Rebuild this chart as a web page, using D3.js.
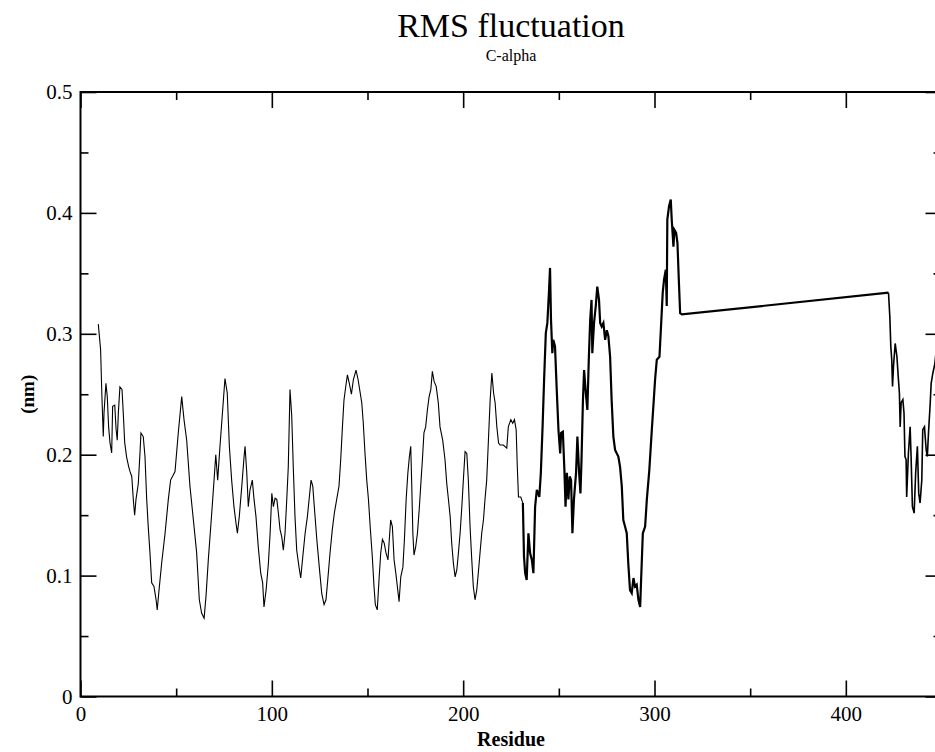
<!DOCTYPE html>
<html>
<head>
<meta charset="utf-8">
<script src="https://cdn.jsdelivr.net/npm/d3@7"></script>
<style>
  html, body { margin: 0; padding: 0; background: #fff; }
  svg { display: block; }
  text { font-family: "Liberation Serif", "Times New Roman", serif; fill: #000; }
</style>
</head>
<body>
<svg id="chart" width="935" height="752"></svg>
<script>
// ---- data ----
const titleText = "RMS fluctuation";
const subtitleText = "C-alpha";
const xLabel = "Residue";
const yLabel = "(nm)";

const xTickValues = [0, 100, 200, 300, 400];
const yTickValues = [0, 0.1, 0.2, 0.3, 0.4, 0.5];
const yTickLabels = ["0", "0.1", "0.2", "0.3", "0.4", "0.5"];

const residues = [
  9.3,10.5,11.2,11.9,12.3,13.3,14,14.7,15.4,16.3,16.8,17.9,18.6,19.2,19.8,20.6,21.7,22.4,23.1,24.1,
  25.2,25.9,26.8,27.6,28.3,29,30.2,31.1,31.6,32.8,33.7,34.6,35.4,36.3,37.2,38.4,39.5,40.1,40.9,42.4,
  44.2,45.9,47.1,49.4,51.1,52.9,54.1,55.5,57.2,59,60.7,62.1,63.3,64.6,65.6,66.8,68.6,69.8,70.7,71.7,
  72.9,74.3,75.5,76.7,77.8,79,80.2,81.3,82,83,84.3,85.5,86,86.9,87.7,88.6,89.8,90.7,91.7,92.9,
  94.2,95.2,95.9,97,98.2,99.1,100,100.8,101.7,102.6,103.4,104.3,105.2,106,106.9,107.8,108.6,109.5,110.4,111.2,
  112.1,113,114.2,115.1,116.2,117.4,118.6,119.6,120.5,121.4,122.2,123.5,124.8,126.1,127.3,128.3,129.2,130.4,131.6,132.7,
  133.9,135.1,136,136.9,137.7,138.6,139.5,140.5,141.6,142.6,144,145.1,146.1,147,147.8,148.7,149.6,150.5,151.4,152.5,
  153.4,154.1,155.1,156,156.9,157.8,158.7,159.7,160.7,161.4,162.1,163,163.9,164.8,165.6,166.5,167.4,168.5,169.3,170.2,
  171.1,171.9,172.6,173.1,173.7,174.3,175.2,176.1,177,177.8,178.7,179.5,180.4,181.3,182.2,183.1,183.9,184.8,185.9,187,
  187.9,189.3,190.5,191.4,192.3,193.2,194,194.9,195.8,196.7,197.5,198.4,199.3,200.1,201,201.9,202.7,203.6,204.5,205.3,
  206.2,207.1,207.9,208.8,209.7,210.6,211.4,212.3,213.2,214.1,215,215.9,216.7,217.6,218.5,219.3,221,222.8,223.6,224.9,
  225.9,226.8,227.7,228.3,228.9,230.1,231.2,
  231.8,232.4,233.2,234.1,235,235.9,236.7,237.6,238.5,239.8,240.6,241.5,242.3,243.2,244,244.9,245.4,245.9,246.6,247.1,
  248,248.9,249.8,250.7,251.2,252.1,252.9,253.5,254.2,255,255.7,256.4,257.1,257.9,259,259.7,260.6,261.3,261.8,262.6,
  263.2,264.1,264.9,265.7,266.4,267.1,267.5,268.4,269.3,270.1,271,271.6,272.4,273.3,274.2,275.1,275.9,276.8,277.6,278.5,
  279.4,280.3,281.1,282,282.9,283.7,284.6,285.5,286.3,287.2,288.1,289,289.8,290.7,291.6,292.5,293,293.9,295.1,296,
  297.3,298.6,299.4,300.3,301.2,302.6,303.5,304.3,305,305.9,306.4,306.7,307.6,308.5,309,309.9,310.4,311.3,312,312.7,
  313.4,314.3,422.3,
  423,423.5,424,424.4,424.9,425.8,426.7,427.5,428,428.4,428.9,429.8,430.4,430.9,431.5,431.8,432.7,433.6,434.1,434.8,
  435.7,436.5,437.4,438.1,438.8,439.7,440.2,441.1,442,442.6,443.2,444.1,444.6,445.5,446.5,447.5,448
];

const rmsf = [
  .308,.287,.248,.215,.235,.259,.248,.223,.210,.2015,.240,.241,.221,.212,.235,.256,.254,.233,.210,.198,
  .190,.186,.182,.163,.150,.163,.176,.2015,.218,.215,.1985,.163,.1405,.119,.094,.091,.080,.0716,.0856,.110,
  .135,.163,.179,.186,.218,.248,.229,.212,.174,.146,.119,.080,.069,.0647,.083,.113,.152,.179,.200,.179,
  .207,.237,.263,.251,.207,.179,.157,.143,.135,.149,.174,.1985,.207,.185,.157,.171,.179,.163,.149,.124,
  .102,.094,.074,.088,.110,.135,.168,.157,.164,.163,.152,.138,.132,.121,.135,.163,.190,.254,.232,.190,
  .149,.121,.107,.098,.116,.135,.149,.165,.179,.174,.157,.130,.107,.085,.076,.080,.096,.1185,.138,.152,
  .163,.174,.196,.223,.245,.256,.266,.259,.250,.262,.270,.262,.252,.243,.226,.201,.179,.163,.1406,.116,
  .091,.076,.0716,.096,.1185,.130,.127,.1185,.113,.130,.146,.1406,.113,.102,.091,.0785,.099,.107,.130,.163,
  .185,.1985,.207,.1765,.135,.117,.124,.135,.154,.174,.196,.218,.223,.237,.248,.254,.269,.2606,.2565,.243,
  .223,.212,.196,.1765,.163,.149,.127,.110,.099,.105,.1185,.135,.157,.179,.2026,.201,.179,.1406,.113,.091,
  .080,.088,.102,.1185,.135,.146,.163,.179,.212,.245,.2675,.251,.243,.223,.2096,.208,.208,.2055,.223,.229,
  .226,.229,.2206,.190,.165,.165,.160,
  .1157,.102,.0964,.135,.1185,.113,.102,.157,.171,.165,.185,.223,.262,.3006,.309,.3365,.3545,.312,.284,.295,
  .2896,.254,.2206,.201,.218,.219,.1875,.157,.185,.163,.182,.179,.135,.163,.185,.215,.185,.168,.193,.245,
  .270,.251,.237,.281,.312,.328,.284,.309,.323,.339,.328,.309,.306,.309,.295,.303,.298,.281,.245,.215,
  .204,.201,.1985,.190,.174,.146,.1406,.135,.110,.088,.0855,.098,.091,.0925,.080,.074,.0964,.135,.1406,.163,
  .1875,.2206,.240,.262,.2786,.281,.309,.334,.345,.353,.323,.3945,.4055,.411,.3945,.372,.386,.3835,.375,.345,
  .317,.316,.334,
  .314,.2896,.2786,.2565,.273,.292,.281,.262,.251,.223,.243,.2455,.2345,.1985,.196,.165,.201,.223,.1985,.157,
  .1517,.185,.207,.168,.160,.179,.2206,.223,.204,.1985,.218,.2426,.259,.2676,.275,.29,.30
];

// ---- layout ----
const svg = d3.select("#chart");
const W = 935, H = 752;
const padL = 80.5, padR = 941.5, padT = 92, padB = 696.5;

const x = d3.scaleLinear().domain([0, 450]).range([padL, padR]);
const y = d3.scaleLinear().domain([0, 0.5]).range([padB, padT]);

svg.append("rect").attr("width", W).attr("height", H).attr("fill", "#fff");

const pts = residues.map((r, i) => [r, rmsf[i]]);
const line = d3.line().x(d => x(d[0])).y(d => y(d[1]));

const i1 = residues.indexOf(231.2);
const i2 = residues.indexOf(422.3);
const pieces = [
  {data: pts.slice(0, i1 + 1), w: 1.1},
  {data: pts.slice(i1, i2 + 1), w: 2.2},
  {data: pts.slice(i2), w: 1.6}
];
svg.append("g").selectAll("path").data(pieces).join("path")
  .attr("d", d => line(d.data))
  .attr("fill", "none").attr("stroke", "#000")
  .attr("stroke-width", d => d.w)
  .attr("stroke-linejoin", "miter");

// ---- axes: ticks inward on all four sides ----
const majorLen = 16, minorLen = 8;
const xMajor = d3.range(0, 451, 100);
const xMinor = d3.range(50, 451, 100);
const yMajor = yTickValues;
const yMinor = d3.range(0.05, 0.5, 0.1);

function drawAxis(ax, tr) {
  const g = svg.append("g").attr("transform", tr).call(ax);
  g.select(".domain").remove();
  g.selectAll("line").attr("stroke", "#000").attr("stroke-width", 1.6);
  return g;
}
drawAxis(d3.axisBottom(x).tickValues(xMajor).tickSize(-majorLen).tickFormat(""), `translate(0,${padB})`);
drawAxis(d3.axisBottom(x).tickValues(xMinor).tickSize(-minorLen).tickFormat(""), `translate(0,${padB})`);
drawAxis(d3.axisTop(x).tickValues(xMajor).tickSize(-majorLen).tickFormat(""), `translate(0,${padT})`);
drawAxis(d3.axisTop(x).tickValues(xMinor).tickSize(-minorLen).tickFormat(""), `translate(0,${padT})`);
drawAxis(d3.axisLeft(y).tickValues(yMajor).tickSize(-majorLen).tickFormat(""), `translate(${padL},0)`);
drawAxis(d3.axisLeft(y).tickValues(yMinor).tickSize(-minorLen).tickFormat(""), `translate(${padL},0)`);
drawAxis(d3.axisRight(y).tickValues(yMajor).tickSize(-majorLen).tickFormat(""), `translate(${padR},0)`);
drawAxis(d3.axisRight(y).tickValues(yMinor).tickSize(-minorLen).tickFormat(""), `translate(${padR},0)`);

// frame
svg.append("rect")
  .attr("x", padL).attr("y", padT)
  .attr("width", padR - padL).attr("height", padB - padT)
  .attr("fill", "none").attr("stroke", "#000").attr("stroke-width", 2);

// tick labels
const gxl = svg.append("g").attr("transform", `translate(0,${padB})`)
  .call(d3.axisBottom(x).tickValues(xTickValues).tickSize(0).tickPadding(10).tickFormat(d3.format("d")));
gxl.select(".domain").remove();
gxl.selectAll("text").style("font-size", "21px").style("font-family", "Liberation Serif");

const gyl = svg.append("g").attr("transform", `translate(${padL},0)`)
  .call(d3.axisLeft(y).tickValues(yTickValues).tickSize(0).tickPadding(8).tickFormat((d, i) => yTickLabels[i]));
gyl.select(".domain").remove();
gyl.selectAll("text").style("font-size", "21px").style("font-family", "Liberation Serif");

// titles
const cx = (padL + padR) / 2;
svg.append("text").attr("x", cx).attr("y", 37).attr("text-anchor", "middle")
  .style("font-size", "34px").text(titleText);
svg.append("text").attr("x", cx).attr("y", 61).attr("text-anchor", "middle")
  .style("font-size", "16px").text(subtitleText);
svg.append("text").attr("x", cx).attr("y", 746).attr("text-anchor", "middle")
  .style("font-size", "20px").style("font-weight", "bold").text(xLabel);
svg.append("text")
  .attr("transform", `translate(34,${(padT + padB) / 2}) rotate(-90)`)
  .attr("text-anchor", "middle")
  .style("font-size", "19px").style("font-weight", "bold").text(yLabel);
</script>
</body>
</html>
